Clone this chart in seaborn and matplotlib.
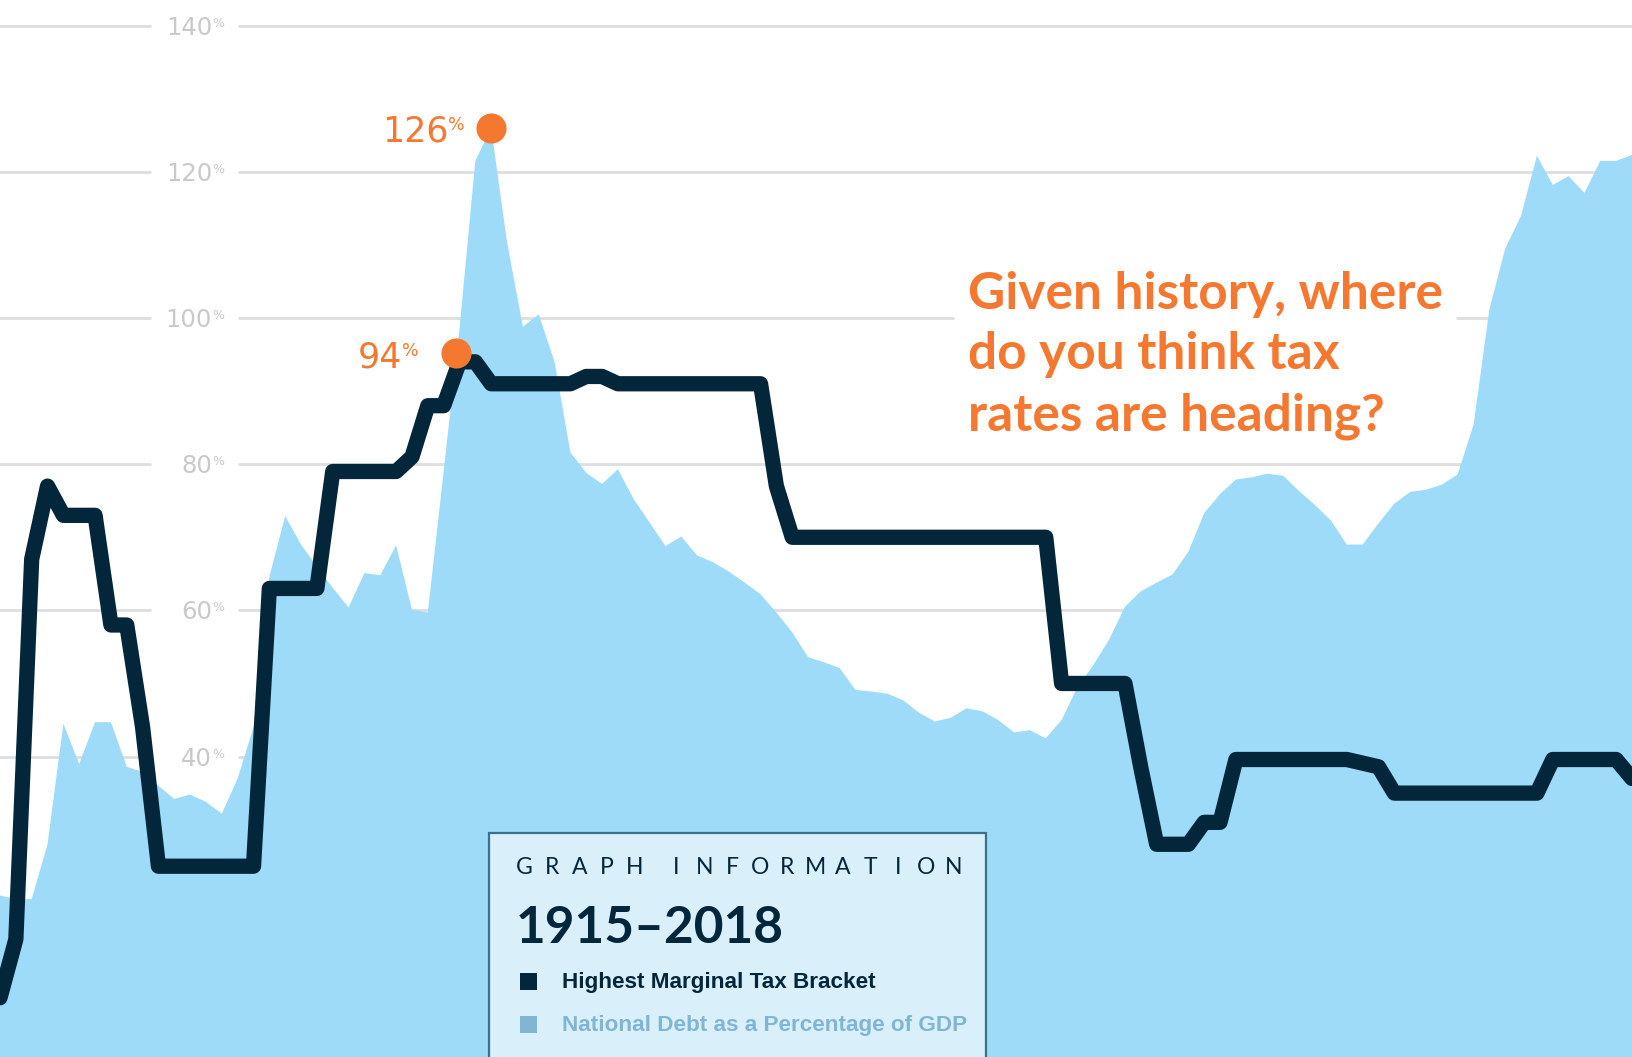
import matplotlib
matplotlib.use("Agg")
import matplotlib.pyplot as plt
import matplotlib.transforms as mtransforms
from matplotlib.patches import Rectangle
import pandas as pd
import seaborn as sns

# --- Data ---
years = list(range(1915, 2019))

# Highest marginal tax bracket, %
top_tax_rate = [
    7, 15, 67, 77, 73, 73, 73, 58, 58, 44,                    # 1915-1924
    25, 25, 25, 25, 25, 25, 25, 63, 63, 63,                   # 1925-1934
    63, 79, 79, 79, 79, 79, 81, 88, 88, 94,                   # 1935-1944
    94, 91, 91, 91, 91, 91, 91, 92, 92, 91,                   # 1945-1954
    91, 91, 91, 91, 91, 91, 91, 91, 91, 77,                   # 1955-1964
    70, 70, 70, 70, 70, 70, 70, 70, 70, 70,                   # 1965-1974
    70, 70, 70, 70, 70, 70, 70, 50, 50, 50,                   # 1975-1984
    50, 50, 38.5, 28, 28, 28, 31, 31, 39.6, 39.6,             # 1985-1994
    39.6, 39.6, 39.6, 39.6, 39.6, 39.6, 39.1, 38.6, 35, 35,   # 1995-2004
    35, 35, 35, 35, 35, 35, 35, 35, 39.6, 39.6,               # 2005-2014
    39.6, 39.6, 39.6, 37,                                     # 2015-2018
]

# National debt as a percentage of GDP
debt_pct_gdp = [
    21, 20.5, 20.5, 28, 44.5, 39, 44.7, 44.7, 38.6, 37.9,             # 1915-1924
    36, 34.2, 34.8, 33.8, 32.2, 37, 44, 64.6, 72.9, 69,               # 1925-1934
    66, 63.1, 60.4, 65.1, 64.8, 68.9, 60.1, 59.7, 79, 98.5,           # 1935-1944
    121.5, 126, 110.4, 98.8, 100.5, 94, 81.6, 78.8, 77.3, 79.3,       # 1945-1954
    75.2, 72, 68.8, 70.1, 67.5, 66.6, 65.3, 63.8, 62.2, 59.7,         # 1955-1964
    57, 53.6, 52.9, 52.1, 49.1, 48.9, 48.6, 47.7, 46, 44.8,           # 1965-1974
    45.3, 46.6, 46.2, 45, 43.3, 43.6, 42.5, 45, 49.5, 52.5,           # 1975-1984
    56, 60.5, 62.6, 63.8, 64.9, 68, 73.3, 75.9, 77.9, 78.2,           # 1985-1994
    78.7, 78.4, 76.3, 74.4, 72.3, 69, 69, 71.9, 74.6, 76.2,           # 1995-2004
    76.5, 77.2, 78.6, 85.4, 101.2, 109.5, 114, 122.2, 118.2, 119.4,   # 2005-2014
    117.1, 121.5, 121.5, 122.3,                                       # 2015-2018
]

grid_levels = [40, 60, 80, 100, 120, 140]
grid_labels = ["40", "60", "80", "100", "120", "140"]

df = pd.DataFrame({"year": years, "tax": top_tax_rate, "debt": debt_pct_gdp})

# --- Colours ---
NAVY = "#03263A"
SKY = "#9DDBF8"
ORANGE = "#F4782F"
GRID = "#DEDEDE"
GRID_TXT = "#C9C9C9"
BOX_FACE = "#D9F0FB"
BOX_EDGE = "#3F6E89"
DEBT_KEY = "#80B5D3"

W, H = 1632, 1057


def fx(px):
    return px / W


def fy(py):
    return 1 - py / H


sns.set_style("white")
plt.rcParams["font.family"] = ["DejaVu Sans"]

fig = plt.figure(figsize=(W / 100, H / 100), dpi=100)
ax = fig.add_axes([0, 0, 1, 1])
ax.set_xlim(1915, 2018)
ax.set_ylim(-1.1, 143.5)

# --- Gridlines with gaps for the labels ---
for g in grid_levels:
    ax.axhline(g, xmin=0, xmax=0.092, color=GRID, lw=2, zorder=0)
    if g == 100:
        ax.axhline(g, xmin=0.1465, xmax=0.584, color=GRID, lw=2, zorder=0)
        ax.axhline(g, xmin=0.893, xmax=1, color=GRID, lw=2, zorder=0)
    else:
        ax.axhline(g, xmin=0.1465, xmax=1, color=GRID, lw=2, zorder=0)

ytrans = ax.get_yaxis_transform()
for g, lab in zip(grid_levels, grid_labels):
    ax.annotate(lab, xy=(0.13, g), xycoords=ytrans, xytext=(0, -9),
                textcoords="offset pixels", ha="right", va="baseline",
                fontsize=17.5, color=GRID_TXT, zorder=1)
    ax.annotate("%", xy=(0.13, g), xycoords=ytrans, xytext=(0, 9),
                textcoords="offset pixels", ha="left", va="top",
                fontsize=9, color=GRID_TXT, zorder=1)

# --- Debt area ---
ax.fill_between(df["year"], df["debt"], ax.get_ylim()[0],
                color=SKY, lw=0, zorder=2)

# --- Tax line ---
sns.lineplot(data=df, x="year", y="tax", ax=ax, color=NAVY, linewidth=11,
             solid_joinstyle="round", solid_capstyle="round",
             legend=False, zorder=3)
ax.axis("off")

# --- Peak markers ---
debt_peak = df.loc[df["debt"].idxmax()]
tax_peak = df.loc[df["tax"].idxmax()]

ax.scatter([debt_peak["year"]], [debt_peak["debt"]], s=470, color=ORANGE,
           lw=0, zorder=5)
dot_trans = mtransforms.offset_copy(ax.transData, fig=fig, x=-3, y=9, units="dots")
ax.scatter([tax_peak["year"]], [tax_peak["tax"]], s=470, color=ORANGE,
           lw=0, zorder=5, transform=dot_trans)

ax.annotate(f"{debt_peak['debt']:.0f}", xy=(debt_peak["year"], debt_peak["debt"]),
            xytext=(-43, -14), textcoords="offset pixels", ha="right",
            va="baseline", fontsize=25, color=ORANGE, zorder=6)
ax.annotate("%", xy=(debt_peak["year"], debt_peak["debt"]),
            xytext=(-43, 12), textcoords="offset pixels", ha="left",
            va="top", fontsize=12.5, color=ORANGE, zorder=6)
ax.annotate(f"{tax_peak['tax']:.0f}", xy=(tax_peak["year"], tax_peak["tax"]),
            xytext=(-57, -6), textcoords="offset pixels", ha="right",
            va="baseline", fontsize=25, color=ORANGE, zorder=6)
ax.annotate("%", xy=(tax_peak["year"], tax_peak["tax"]),
            xytext=(-57, 20), textcoords="offset pixels", ha="left",
            va="top", fontsize=12.5, color=ORANGE, zorder=6)

# --- Question (va="baseline" pins the last line's baseline) ---
ax.text(fx(968), fy(430),
        "Given history, where\ndo you think tax\nrates are heading?",
        transform=ax.transAxes, ha="left", va="baseline", fontsize=37,
        fontweight="bold", family=["Lato", "DejaVu Sans"], color=ORANGE,
        linespacing=1.36, zorder=6)

# --- Graph information box ---
fig.add_artist(Rectangle((fx(489), -0.05), fx(986) - fx(489), fy(833) + 0.05,
                         transform=fig.transFigure, facecolor=BOX_FACE,
                         edgecolor=BOX_EDGE, lw=1.6, zorder=10))

x_letter = 524
for ch in "GRAPH INFORMATION":
    if ch == " ":
        x_letter += 14
        continue
    fig.text(fx(x_letter), fy(873.5), ch, ha="center", va="baseline",
             fontsize=16.5, fontweight="normal", family=["Lato", "DejaVu Sans"],
             color=NAVY, zorder=11)
    x_letter += 27.7

fig.text(fx(516), fy(943), "1915\u20132018", ha="left", va="baseline",
         fontsize=37, fontweight="bold", family=["Lato", "DejaVu Sans"],
         color=NAVY, zorder=11)

fig.add_artist(Rectangle((fx(520), fy(990)), 17 / W, 17 / H,
                         transform=fig.transFigure, facecolor=NAVY, lw=0, zorder=11))
fig.text(fx(562), fy(988), "Highest Marginal Tax Bracket", ha="left",
         va="baseline", fontsize=16.2, fontweight="bold",
         family=["Liberation Sans", "DejaVu Sans"], color=NAVY, zorder=11)

fig.add_artist(Rectangle((fx(520), fy(1033)), 17 / W, 17 / H,
                         transform=fig.transFigure, facecolor=DEBT_KEY, lw=0, zorder=11))
fig.text(fx(562), fy(1031.5), "National Debt as a Percentage of GDP", ha="left",
         va="baseline", fontsize=16.2, fontweight="bold",
         family=["Liberation Sans", "DejaVu Sans"], color=DEBT_KEY, zorder=11)

fig.savefig("out.png", dpi=100)
plt.close(fig)
